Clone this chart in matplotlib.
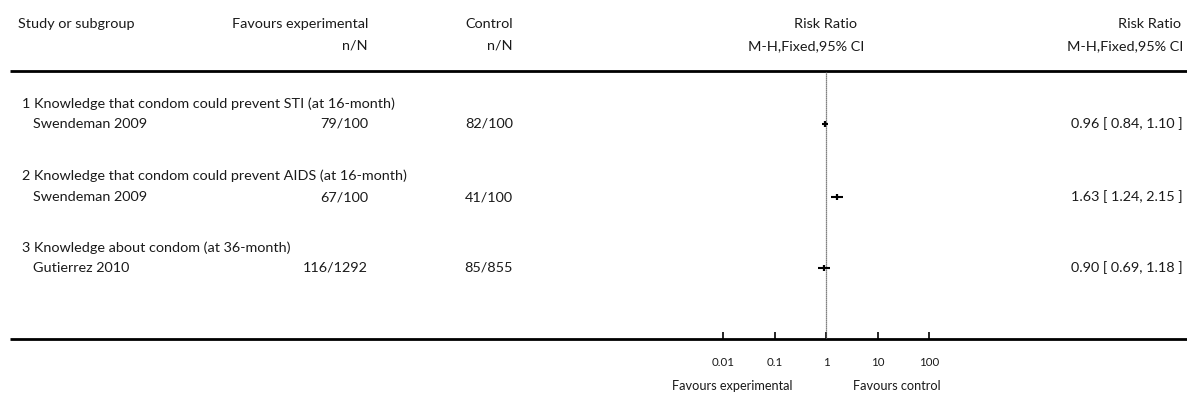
import numpy as np
import matplotlib
matplotlib.use('Agg')
import matplotlib.pyplot as plt

# ── Data ──────────────────────────────────────────────────────────────────
subgroups = [
    "1 Knowledge that condom could prevent STI (at 16-month)",
    "2 Knowledge that condom could prevent AIDS (at 16-month)",
    "3 Knowledge about condom (at 36-month)",
]
studies = ["Swendeman 2009", "Swendeman 2009", "Gutierrez 2010"]
exp_events = [79, 67, 116]
exp_total = [100, 100, 1292]
ctl_events = [82, 41, 85]
ctl_total = [100, 100, 855]
rr = [0.96, 1.63, 0.90]
rr_lo = [0.84, 1.24, 0.69]
rr_hi = [1.10, 2.15, 1.18]
tick_vals = [0.01, 0.1, 1, 10, 100]
tick_labels = ["0.01", "0.1", "1", "10", "100"]

W, H = 1187, 401
plt.rcParams['font.family'] = ['Lato', 'DejaVu Sans']
FS = 10.4
TC = '#1a1a1a'

fig = plt.figure(figsize=(W / 100, H / 100), dpi=100)
fig.patch.set_facecolor('white')

# background axes in pixel coordinates
bg = fig.add_axes([0, 0, 1, 1])
bg.set_xlim(0, W)
bg.set_ylim(H, 0)
bg.axis('off')

TOP, BOT = 71, 339
bg.plot([10, W], [TOP, TOP], color='black', lw=2, solid_capstyle='butt')
bg.plot([10, W], [BOT, BOT], color='black', lw=2, solid_capstyle='butt')

# header
bg.text(18, 24, "Study or subgroup", fontsize=FS, color=TC, va='center')
bg.text(368, 24, "Favours experimental", fontsize=FS, color=TC, va='center', ha='right')
bg.text(368, 46, "n/N", fontsize=FS, color=TC, va='center', ha='right')
bg.text(513, 24, "Control", fontsize=FS, color=TC, va='center', ha='right')
bg.text(513, 46, "n/N", fontsize=FS, color=TC, va='center', ha='right')
bg.text(825, 24, "Risk Ratio", fontsize=FS, color=TC, va='center', ha='center')
bg.text(806, 46, "M-H,Fixed,95% CI", fontsize=FS, color=TC, va='center', ha='center')
bg.text(1181, 24, "Risk Ratio", fontsize=FS, color=TC, va='center', ha='right')
bg.text(1183, 46, "M-H,Fixed,95% CI", fontsize=FS, color=TC, va='center', ha='right')

sub_y = [104, 176, 248]
row_y = [124, 197, 268]
for i in range(len(studies)):
    bg.text(22, sub_y[i], subgroups[i], fontsize=FS, color=TC, va='center')
    bg.text(33, row_y[i], studies[i], fontsize=FS, color=TC, va='center')
    bg.text(368, row_y[i], f"{exp_events[i]}/{exp_total[i]}", fontsize=FS,
            color=TC, va='center', ha='right')
    bg.text(513, row_y[i], f"{ctl_events[i]}/{ctl_total[i]}", fontsize=FS,
            color=TC, va='center', ha='right')
    bg.text(1183, row_y[i], f"{rr[i]:.2f} [ {rr_lo[i]:.2f}, {rr_hi[i]:.2f} ]",
            fontsize=FS, color=TC, va='center', ha='right')

bg.text(792, 386, "Favours experimental", fontsize=9.2, color=TC, va='center', ha='right')
bg.text(853, 386, "Favours control", fontsize=9.2, color=TC, va='center', ha='left')

# forest axes: log scale, 8 decades across 412 px centred on x=826
L, R = 620, 1032
ax = fig.add_axes([L / W, 1 - BOT / H, (R - L) / W, (BOT - TOP) / H])
ax.patch.set_alpha(0)
ax.set_xscale('log')
ax.set_xlim(1e-4, 1e4)
ax.set_ylim(BOT, TOP)
for s in ax.spines.values():
    s.set_visible(False)
ax.axvline(1, color='#555555', lw=0.9, ls=(0, (1, 0.6)))
ax.hlines(row_y, rr_lo, rr_hi, color='black', lw=1.5)
ax.plot(rr, row_y, '|', color='black', ms=5, mew=1.6)
ax.set_yticks([])
ax.set_xticks(tick_vals)
ax.set_xticklabels(tick_labels)
ax.minorticks_off()
ax.tick_params(axis='x', direction='in', length=5, width=1.2, pad=13,
               labelsize=8.3, labelcolor=TC)

fig.savefig('out.png', dpi=100, facecolor='white')
